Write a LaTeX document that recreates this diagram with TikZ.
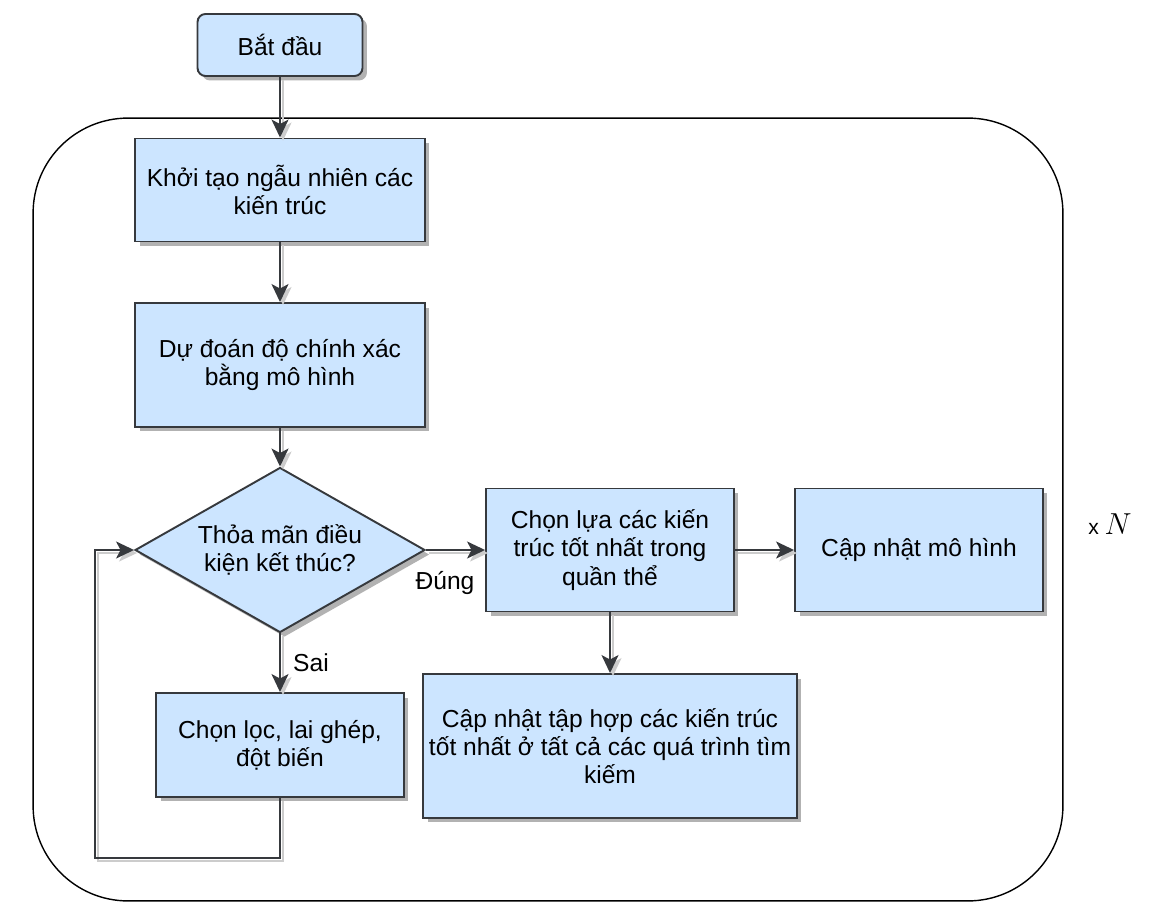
\documentclass[tikz,border=0pt]{standalone}
\usepackage{fontspec}
\setmainfont{Liberation Sans}
\usetikzlibrary{shapes.geometric,shadows,arrows.meta}
\definecolor{boxfill}{HTML}{CCE5FF}
\definecolor{boxline}{HTML}{36393D}
\begin{document}
\begin{tikzpicture}
  [x=0.02cm,y=-0.02cm,
   every node/.style={font=\fontsize{14}{16}\selectfont,align=center},
   box/.style={rectangle,draw=boxline,fill=boxfill,line width=1.1pt,
     drop shadow={shadow xshift=0.09cm,shadow yshift=-0.09cm,fill=black!30,opacity=1}},
   cond/.style={box,diamond,aspect=1.76,inner sep=0pt},
   edge/.style={draw=boxline,line width=1.1pt,-{Stealth[length=0.36cm,width=0.34cm,inset=0.09cm]},
     preaction={draw=black!20,line width=1.1pt,transform canvas={shift={(3,3)}}}}]
  \useasboundingbox (0,0) rectangle (1158,915);

  \node[draw,line width=0.8pt,rounded corners=1.9cm,minimum width=20.6cm,minimum height=15.66cm] (vong) at (548,509.5) {};

  \node[box,rounded corners=0.16cm,minimum width=3.3cm,minimum height=1.24cm] (batdau) at (280,45) {Bắt đầu};
  \node[box,minimum width=5.8cm,minimum height=2.06cm] (khoitao) at (280,190) {Khởi tạo ngẫu nhiên các\\kiến trúc};
  \node[box,minimum width=5.8cm,minimum height=2.48cm] (dudoan) at (280,365) {Dự đoán độ chính xác\\bằng mô hình};
  \node[cond,minimum width=5.8cm,minimum height=3.3cm] (dk) at (280,550) {Thỏa mãn điều\\kiện kết thúc?};
  \node[box,minimum width=4.96cm,minimum height=2.46cm] (chonlua) at (610,550) {Chọn lựa các kiến\\trúc tốt nhất trong\\quần thể};
  \node[box,minimum width=4.96cm,minimum height=2.46cm] (capnhat) at (919,550) {Cập nhật mô hình};
  \node[box,minimum width=7.44cm,minimum height=2.88cm] (taphop) at (610,746) {Cập nhật tập hợp các kiến trúc\\tốt nhất ở tất cả các quá trình tìm\\kiếm};
  \node[box,minimum width=4.96cm,minimum height=2.08cm] (chonloc) at (280,745) {Chọn lọc, lai ghép,\\đột biến};

  \node (dung) at (445,583) {Đúng};
  \node (sai) at (311,663) {Sai};
  \node (lap) at (1110,524) {\fontsize{12}{14}\selectfont x \fontsize{16}{18}\selectfont$N$};

  \coordinate (quay) at (95,858);

  \foreach \from/\to in {batdau/khoitao,khoitao/dudoan,dudoan/dk,dk/chonlua,chonlua/capnhat,chonlua/taphop,dk/chonloc}
    \draw[edge] (\from) -- (\to);
  \draw[edge] (chonloc.south) |- (quay) |- (dk.west);

\end{tikzpicture}
\end{document}
